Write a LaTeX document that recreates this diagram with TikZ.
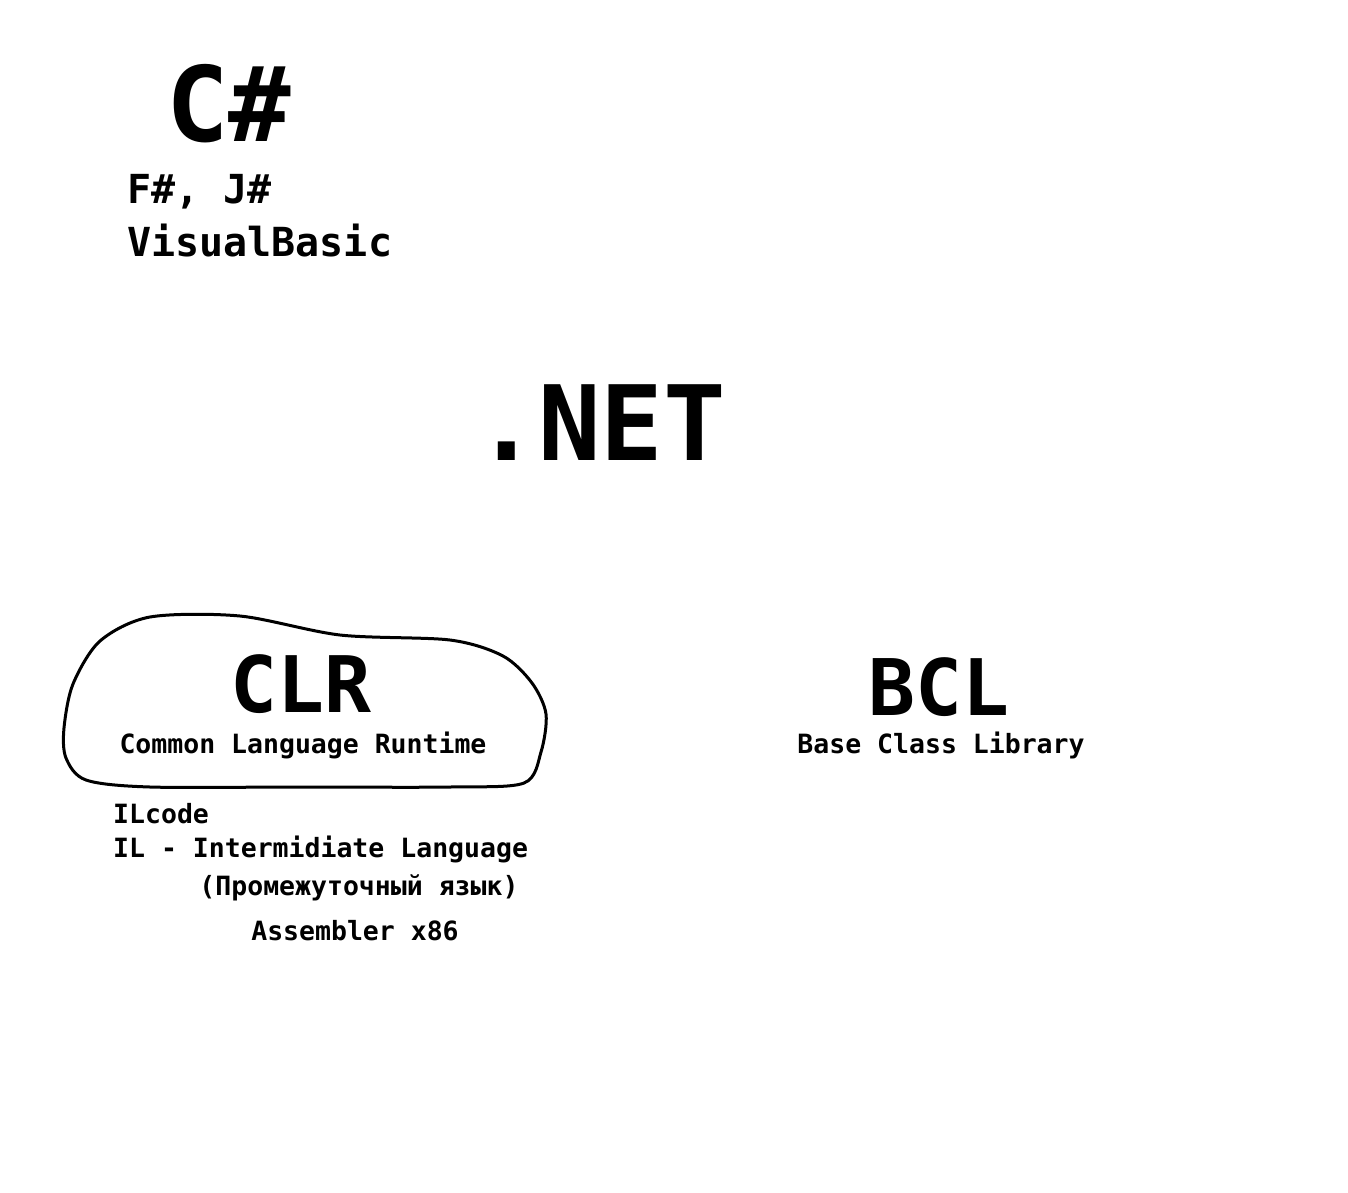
\documentclass[tikz,border=0pt]{standalone}
\usepackage{fontspec}
\setmonofont{DejaVu Sans Mono}
\usepackage{tikz}
\usetikzlibrary{arrows}

\begin{document}
\begin{tikzpicture}[x=1pt,y=-1pt,
    every node/.style={inner sep=0pt, font=\ttfamily\bfseries},
    huge/.style={font=\ttfamily\bfseries\fontsize{104}{114}\selectfont},
    big/.style={font=\ttfamily\bfseries\fontsize{78}{86}\selectfont},
    mid/.style={font=\ttfamily\bfseries\fontsize{40}{46}\selectfont},
    small/.style={font=\ttfamily\bfseries\fontsize{26.5}{30}\selectfont}
    ]

    \useasboundingbox (0,0) rectangle (1348,1192);

    % languages
    \node[huge, anchor=base] (csharp) at (229,141) {C\#};
    \node[mid, anchor=base west] (fj) at (127,203) {F\#, J\#};
    \node[mid, anchor=base west] (vb) at (127,256) {VisualBasic};

    % platform
    \node[huge, anchor=base] (net) at (601,460) {.NET};

    % CLR cloud
    \draw[line width=3pt, line join=round]
        plot[smooth cycle, tension=0.5] coordinates {
            (150,617) (240,616) (340,635) (450,640)
            (503,656) (532,683) (546,714) (541,752)
            (524,783) (450,787) (300,787) (150,787)
            (86,780) (66,758) (64,728) (73,684)
            (100,641)
        };
    \node[big, anchor=base] (clr) at (301,712) {CLR};
    \node[small, anchor=base] (clrtext) at (303,753) {Common Language Runtime};

    % BCL
    \node[big, anchor=base] (bcl) at (939,715) {BCL};
    \node[small, anchor=base] (bcltext) at (941,753) {Base Class Library};

    % IL notes
    \node[small, anchor=base west] (ilcode) at (113,823) {ILcode};
    \node[small, anchor=base west] (il) at (113,857) {IL - Intermidiate Language};
    \node[small, anchor=base] (ilru) at (359,895) {(Промежуточный язык)};
    \node[small, anchor=base] (asm) at (355,940) {Assembler x86};

\end{tikzpicture}
\end{document}
